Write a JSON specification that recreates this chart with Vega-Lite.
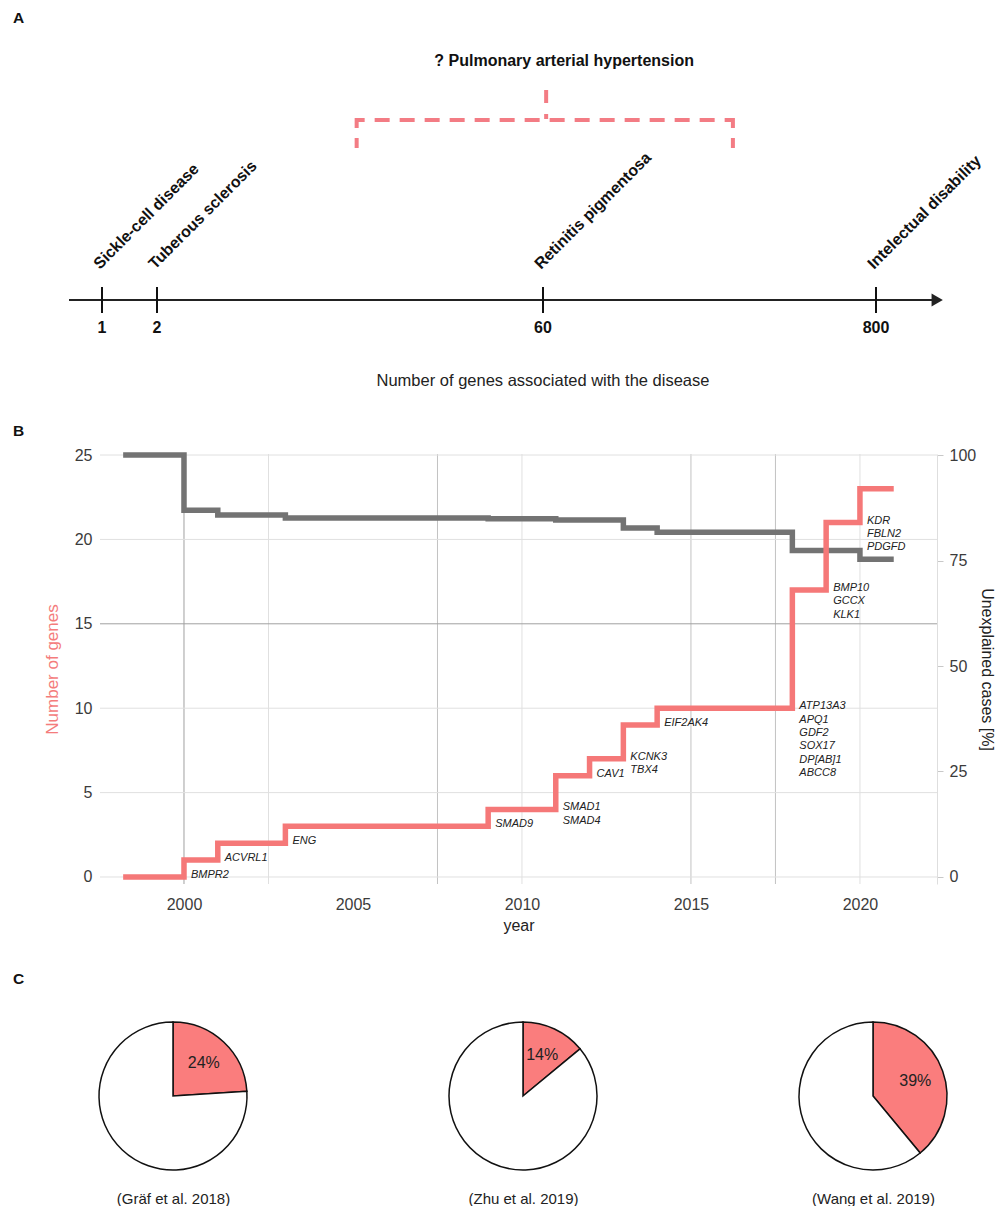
{
  "$schema": "https://vega.github.io/schema/vega-lite/v6.json",
  "padding": {"left": 13, "top": 10, "right": 0, "bottom": 0},
  "spacing": 119,
  "bounds": "flush",
  "resolve": {"scale": {"color": "independent"}},
  "config": {
    "font": "Liberation Sans",
    "view": {"stroke": null},
    "title": {"anchor": "start", "frame": "group", "dx": -87, "fontSize": 15.5, "fontWeight": "bold", "color": "#111111", "baseline": "alphabetic", "offset": 16},
    "style": {"group-title": {"fontSize": 15.5, "fontWeight": "bold", "color": "#111111"}},
    "axis": {"grid": false, "labelFont": "Liberation Sans", "titleFont": "Liberation Sans", "titleFontWeight": "normal", "labelFontSize": 16, "titleFontSize": 16, "labelColor": "#3b3b3b", "titleColor": "#222222"}
  },
  "datasets": {
    "diseases": [
      {"genes": 1, "disease": "Sickle-cell disease"},
      {"genes": 2, "disease": "Tuberous sclerosis"},
      {"genes": 60, "disease": "Retinitis pigmentosa"},
      {"genes": 800, "disease": "Intelectual disability"}
    ],
    "axisnote": [{"label": "Number of genes associated with the disease"}],
    "pah": [{"label": "? Pulmonary arterial hypertension", "low": 32, "high": 482, "mid": 67}],
    "vgrid": [
      {"year": 2000, "tone": "dark"},
      {"year": 2002.5, "tone": "light"},
      {"year": 2007.5, "tone": "mid"},
      {"year": 2010, "tone": "light"},
      {"year": 2015, "tone": "mid"},
      {"year": 2017.5, "tone": "mid"},
      {"year": 2020, "tone": "light"}
    ],
    "hgrid": [
      {"genes": 0, "tone": "light"},
      {"genes": 5, "tone": "light"},
      {"genes": 10, "tone": "light"},
      {"genes": 15, "tone": "dark"},
      {"genes": 20, "tone": "light"},
      {"genes": 25, "tone": "light"}
    ],
    "unexplained": [
      {"year": 1998.2, "pct": 100},
      {"year": 2000, "pct": 86.9},
      {"year": 2001, "pct": 85.8},
      {"year": 2003, "pct": 85.1},
      {"year": 2009, "pct": 84.9},
      {"year": 2011, "pct": 84.6},
      {"year": 2013, "pct": 82.7},
      {"year": 2014, "pct": 81.7},
      {"year": 2018, "pct": 77.4},
      {"year": 2020, "pct": 75.3},
      {"year": 2021, "pct": 75.3}
    ],
    "genes": [
      {"year": 1998.2, "genes": 0},
      {"year": 2000, "genes": 1},
      {"year": 2001, "genes": 2},
      {"year": 2003, "genes": 3},
      {"year": 2009, "genes": 4},
      {"year": 2011, "genes": 6},
      {"year": 2012, "genes": 7},
      {"year": 2013, "genes": 9},
      {"year": 2014, "genes": 10},
      {"year": 2018, "genes": 17},
      {"year": 2019, "genes": 21},
      {"year": 2020, "genes": 23},
      {"year": 2021, "genes": 23}
    ],
    "labels": [
      {"year": 2000, "level": 0, "gene": "BMPR2"},
      {"year": 2001, "level": 1, "gene": "ACVRL1"},
      {"year": 2003, "level": 2, "gene": "ENG"},
      {"year": 2009, "level": 3, "gene": "SMAD9"},
      {"year": 2011, "level": 4, "gene": "SMAD1\nSMAD4"},
      {"year": 2012, "level": 6, "gene": "CAV1"},
      {"year": 2013, "level": 7, "gene": "KCNK3\nTBX4"},
      {"year": 2014, "level": 9, "gene": "EIF2AK4"},
      {"year": 2018, "level": 10, "gene": "ATP13A3\nAPQ1\nGDF2\nSOX17\nDP[AB]1\nABCC8"},
      {"year": 2019, "level": 17, "gene": "BMP10\nGCCX\nKLK1"},
      {"year": 2020, "level": 21, "gene": "KDR\nFBLN2\nPDGFD"}
    ],
    "pies": [
      {"study": "(Gräf et al. 2018)", "part": "explained", "share": 24, "label": "24%"},
      {"study": "(Gräf et al. 2018)", "part": "unexplained", "share": 76, "label": ""},
      {"study": "(Zhu et al. 2019)", "part": "explained", "share": 14, "label": "14%"},
      {"study": "(Zhu et al. 2019)", "part": "unexplained", "share": 86, "label": ""},
      {"study": "(Wang et al. 2019)", "part": "explained", "share": 39, "label": "39%"},
      {"study": "(Wang et al. 2019)", "part": "unexplained", "share": 61, "label": ""}
    ]
  },
  "vconcat": [
    {
      "title": {"text": "A", "fontSize": 15.5, "fontWeight": "bold"},
      "width": 837,
      "height": 293,
      "layer": [
        {
          "data": {"name": "axisnote"},
          "mark": {"type": "rule", "color": "#222222", "strokeWidth": 1.8},
          "encoding": {
            "x": {"datum": 0.4, "type": "quantitative", "scale": {"domain": [1, 2, 60, 800], "range": [2, 57, 443, 776], "nice": false, "zero": false}, "axis": null},
            "x2": {"datum": 931},
            "y": {"datum": 0, "type": "quantitative", "scale": {"domain": [-3.5, 25.8], "nice": false, "zero": false}, "axis": null}
          }
        },
        {
          "data": {"name": "axisnote"},
          "mark": {"type": "point", "shape": "triangle-right", "filled": true, "color": "#222222", "size": 170, "opacity": 1},
          "encoding": {
            "x": {"datum": 936, "type": "quantitative", "scale": {"domain": [1, 2, 60, 800], "range": [2, 57, 443, 776], "nice": false, "zero": false}, "axis": null},
            "y": {"datum": 0, "type": "quantitative", "scale": {"domain": [-3.5, 25.8], "nice": false, "zero": false}, "axis": null}
          }
        },
        {
          "data": {"name": "axisnote"},
          "mark": {"type": "text", "fontSize": 16.5, "color": "#222222", "baseline": "middle", "align": "center"},
          "encoding": {
            "x": {"datum": 60, "type": "quantitative", "scale": {"domain": [1, 2, 60, 800], "range": [2, 57, 443, 776], "nice": false, "zero": false}, "axis": null},
            "y": {"datum": -8.1, "type": "quantitative", "scale": {"domain": [-3.5, 25.8], "nice": false, "zero": false}, "axis": null},
            "text": {"field": "label"}
          }
        },
        {
          "data": {"name": "diseases"},
          "mark": {"type": "rule", "color": "#111111", "strokeWidth": 2},
          "encoding": {
            "x": {"field": "genes", "type": "quantitative", "scale": {"domain": [1, 2, 60, 800], "range": [2, 57, 443, 776], "nice": false, "zero": false}, "axis": null},
            "y": {"datum": 1.3, "type": "quantitative", "scale": {"domain": [-3.5, 25.8], "nice": false, "zero": false}, "axis": null},
            "y2": {"datum": -1.3}
          }
        },
        {
          "data": {"name": "diseases"},
          "mark": {"type": "text", "fontSize": 16, "fontWeight": "bold", "color": "#111111", "baseline": "middle", "align": "center"},
          "encoding": {
            "x": {"field": "genes", "type": "quantitative", "scale": {"domain": [1, 2, 60, 800], "range": [2, 57, 443, 776], "nice": false, "zero": false}, "axis": null},
            "y": {"datum": -2.8, "type": "quantitative", "scale": {"domain": [-3.5, 25.8], "nice": false, "zero": false}, "axis": null},
            "text": {"field": "genes", "type": "quantitative", "format": "d"}
          }
        },
        {
          "data": {"name": "diseases"},
          "mark": {"type": "text", "fontSize": 16, "fontWeight": "bold", "color": "#111111", "baseline": "alphabetic", "align": "left", "angle": 315, "dx": 0, "dy": -3},
          "encoding": {
            "x": {"field": "genes", "type": "quantitative", "scale": {"domain": [1, 2, 60, 800], "range": [2, 57, 443, 776], "nice": false, "zero": false}, "axis": null},
            "y": {"datum": 2.8, "type": "quantitative", "scale": {"domain": [-3.5, 25.8], "nice": false, "zero": false}, "axis": null},
            "text": {"field": "disease"}
          }
        },
        {
          "data": {"name": "pah"},
          "mark": {"type": "rule", "color": "#F37C84", "strokeWidth": 4, "strokeDash": [15, 10], "strokeDashOffset": 7},
          "encoding": {
            "x": {"field": "low", "type": "quantitative", "scale": {"domain": [1, 2, 60, 800], "range": [2, 57, 443, 776], "nice": false, "zero": false}, "axis": null},
            "x2": {"field": "high"},
            "y": {"datum": 18, "type": "quantitative", "scale": {"domain": [-3.5, 25.8], "nice": false, "zero": false}, "axis": null}
          }
        },
        {
          "data": {"name": "pah"},
          "mark": {"type": "rule", "color": "#F37C84", "strokeWidth": 4, "strokeDash": [10, 10]},
          "encoding": {
            "x": {"field": "low", "type": "quantitative", "scale": {"domain": [1, 2, 60, 800], "range": [2, 57, 443, 776], "nice": false, "zero": false}, "axis": null},
            "y": {"datum": 18.2, "type": "quantitative", "scale": {"domain": [-3.5, 25.8], "nice": false, "zero": false}, "axis": null},
            "y2": {"datum": 15.2}
          }
        },
        {
          "data": {"name": "pah"},
          "mark": {"type": "rule", "color": "#F37C84", "strokeWidth": 4, "strokeDash": [10, 10]},
          "encoding": {
            "x": {"field": "high", "type": "quantitative", "scale": {"domain": [1, 2, 60, 800], "range": [2, 57, 443, 776], "nice": false, "zero": false}, "axis": null},
            "y": {"datum": 18.2, "type": "quantitative", "scale": {"domain": [-3.5, 25.8], "nice": false, "zero": false}, "axis": null},
            "y2": {"datum": 15.2}
          }
        },
        {
          "data": {"name": "pah"},
          "mark": {"type": "rule", "color": "#F37C84", "strokeWidth": 4, "strokeDash": [13, 11]},
          "encoding": {
            "x": {"field": "mid", "type": "quantitative", "scale": {"domain": [1, 2, 60, 800], "range": [2, 57, 443, 776], "nice": false, "zero": false}, "axis": null},
            "y": {"datum": 21, "type": "quantitative", "scale": {"domain": [-3.5, 25.8], "nice": false, "zero": false}, "axis": null},
            "y2": {"datum": 18.1}
          }
        },
        {
          "data": {"name": "pah"},
          "mark": {"type": "text", "fontSize": 16, "fontWeight": "bold", "color": "#111111", "baseline": "middle", "align": "center"},
          "encoding": {
            "x": {"datum": 107, "type": "quantitative", "scale": {"domain": [1, 2, 60, 800], "range": [2, 57, 443, 776], "nice": false, "zero": false}, "axis": null},
            "y": {"datum": 23.9, "type": "quantitative", "scale": {"domain": [-3.5, 25.8], "nice": false, "zero": false}, "axis": null},
            "text": {"field": "label"}
          }
        }
      ]
    },
    {
      "title": {"text": "B", "offset": 5, "fontSize": 15.5, "fontWeight": "bold"},
      "width": 837,
      "height": 430,
      "resolve": {"scale": {"y": "independent"}},
      "layer": [
        {
          "data": {"name": "vgrid"},
          "mark": {"type": "rule", "strokeWidth": 1},
          "encoding": {
            "x": {"field": "year", "type": "quantitative", "scale": {"domain": [1997.515, 2022.28], "nice": false, "zero": false},
                  "axis": {"title": "year", "values": [2000, 2005, 2010, 2015, 2020], "format": "d", "ticks": false, "tickSize": 0, "domain": false, "labelPadding": 12, "titlePadding": 5, "grid": false}},
            "color": {"field": "tone", "type": "nominal", "scale": {"domain": ["dark", "mid", "light"], "range": ["#a0a0a0", "#c2c2c2", "#e0e0e0"]}, "legend": null}
          }
        },
        {
          "data": {"name": "hgrid"},
          "mark": {"type": "rule", "strokeWidth": 1},
          "encoding": {
            "y": {"field": "genes", "type": "quantitative", "scale": {"domain": [-0.415, 25.06], "nice": false, "zero": false}, "axis": null},
            "color": {"field": "tone", "type": "nominal", "scale": {"domain": ["dark", "mid", "light"], "range": ["#a0a0a0", "#c2c2c2", "#e0e0e0"]}, "legend": null}
          }
        },
        {
          "data": {"name": "unexplained"},
          "mark": {"type": "line", "interpolate": "step-after", "color": "#737373", "strokeWidth": 5.5, "strokeCap": "butt"},
          "encoding": {
            "x": {"field": "year", "type": "quantitative", "scale": {"domain": [1997.515, 2022.28], "nice": false, "zero": false}},
            "y": {"field": "pct", "type": "quantitative", "scale": {"domain": [-1.66, 100.24], "nice": false, "zero": false},
                  "axis": {"orient": "right", "title": "Unexplained cases [%]", "values": [0, 25, 50, 75, 100], "ticks": true, "tickSize": 6, "tickColor": "#c8c8c8", "domain": true, "domainColor": "#dedede", "labelPadding": 6, "titlePadding": 3, "grid": false}}
          }
        },
        {
          "data": {"name": "genes"},
          "mark": {"type": "line", "interpolate": "step-after", "color": "#F57878", "strokeWidth": 5.5, "strokeCap": "butt"},
          "encoding": {
            "x": {"field": "year", "type": "quantitative", "scale": {"domain": [1997.515, 2022.28], "nice": false, "zero": false}},
            "y": {"field": "genes", "type": "quantitative", "scale": {"domain": [-0.415, 25.06], "nice": false, "zero": false},
                  "axis": {"orient": "left", "title": "Number of genes", "titleColor": "#F47C7C", "titleFontSize": 17, "values": [0, 5, 10, 15, 20, 25], "ticks": false, "tickSize": 0, "domain": false, "labelPadding": 8, "titlePadding": 13, "grid": false}}
          }
        },
        {
          "data": {"name": "labels"},
          "mark": {"type": "text", "align": "left", "baseline": "bottom", "dx": 7, "dy": 3, "fontSize": 11, "fontStyle": "italic", "lineBreak": "\n", "lineHeight": 13.4, "color": "#222222"},
          "encoding": {
            "x": {"field": "year", "type": "quantitative", "scale": {"domain": [1997.515, 2022.28], "nice": false, "zero": false}},
            "y": {"field": "level", "type": "quantitative", "scale": {"domain": [-0.415, 25.06], "nice": false, "zero": false}, "axis": null},
            "text": {"field": "gene"}
          }
        }
      ]
    },
    {
      "title": {"text": "C", "fontSize": 15.5, "fontWeight": "bold"},
      "width": 837,
      "height": 186,
      "data": {"name": "pies"},
      "encoding": {
        "x": {"field": "study", "type": "nominal", "scale": {"type": "point", "domain": ["(Gräf et al. 2018)", "(Zhu et al. 2019)", "(Wang et al. 2019)"], "range": [73, 773], "padding": 0},
              "axis": {"orient": "bottom", "title": null, "ticks": false, "domain": false, "labelPadding": 2, "labelFontSize": 15, "labelColor": "#222222", "labelAngle": 0, "grid": false}}
      },
      "layer": [
        {
          "transform": [{"filter": {"field": "study", "equal": "(Gräf et al. 2018)"}}],
          "layer": [
            {"mark": {"type": "arc", "outerRadius": 74, "stroke": "#111111", "strokeWidth": 1.5},
             "encoding": {"theta": {"field": "share", "type": "quantitative", "stack": true, "scale": {"domain": [0, 100]}},
                          "color": {"field": "part", "type": "nominal", "scale": {"domain": ["explained", "unexplained"], "range": ["#FA7D7D", "#ffffff"]}, "legend": null},
                          "order": {"field": "part"}}},
            {"mark": {"type": "text", "radius": 45, "fontSize": 16, "color": "#222222"},
             "encoding": {"theta": {"field": "share", "type": "quantitative", "stack": true, "scale": {"domain": [0, 100]}},
                          "text": {"field": "label"}, "order": {"field": "part"}}}
          ]
        },
        {
          "transform": [{"filter": {"field": "study", "equal": "(Zhu et al. 2019)"}}],
          "layer": [
            {"mark": {"type": "arc", "outerRadius": 74, "stroke": "#111111", "strokeWidth": 1.5},
             "encoding": {"theta": {"field": "share", "type": "quantitative", "stack": true, "scale": {"domain": [0, 100]}},
                          "color": {"field": "part", "type": "nominal", "scale": {"domain": ["explained", "unexplained"], "range": ["#FA7D7D", "#ffffff"]}, "legend": null},
                          "order": {"field": "part"}}},
            {"mark": {"type": "text", "radius": 45, "fontSize": 16, "color": "#222222"},
             "encoding": {"theta": {"field": "share", "type": "quantitative", "stack": true, "scale": {"domain": [0, 100]}},
                          "text": {"field": "label"}, "order": {"field": "part"}}}
          ]
        },
        {
          "transform": [{"filter": {"field": "study", "equal": "(Wang et al. 2019)"}}],
          "layer": [
            {"mark": {"type": "arc", "outerRadius": 74, "stroke": "#111111", "strokeWidth": 1.5},
             "encoding": {"theta": {"field": "share", "type": "quantitative", "stack": true, "scale": {"domain": [0, 100]}},
                          "color": {"field": "part", "type": "nominal", "scale": {"domain": ["explained", "unexplained"], "range": ["#FA7D7D", "#ffffff"]}, "legend": null},
                          "order": {"field": "part"}}},
            {"mark": {"type": "text", "radius": 45, "fontSize": 16, "color": "#222222"},
             "encoding": {"theta": {"field": "share", "type": "quantitative", "stack": true, "scale": {"domain": [0, 100]}},
                          "text": {"field": "label"}, "order": {"field": "part"}}}
          ]
        }
      ]
    }
  ]
}
